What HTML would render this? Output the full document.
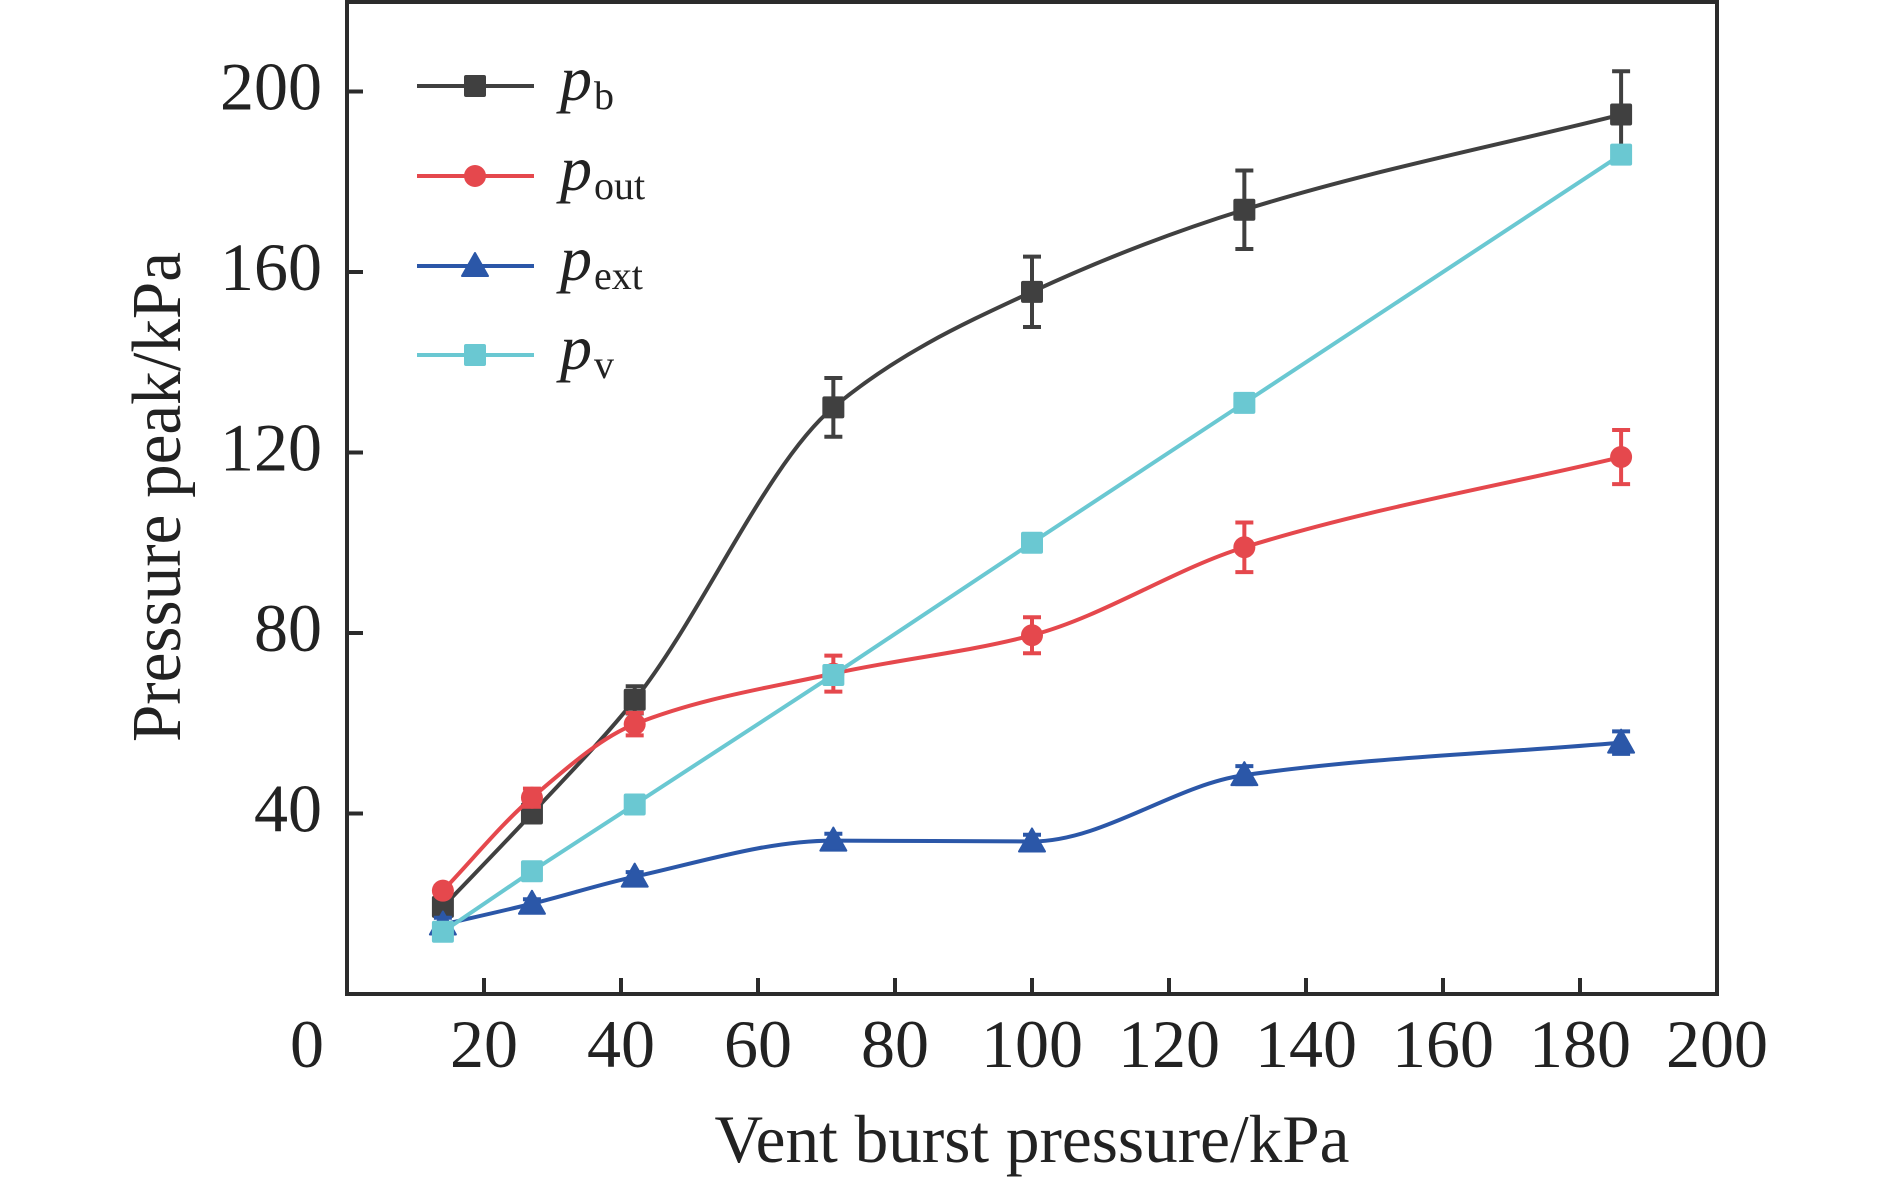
<!DOCTYPE html>
<html><head><meta charset="utf-8"><style>
html,body{margin:0;padding:0;background:#fff;}
svg{display:block;font-family:"Liberation Serif",serif;}
</style></head><body>
<svg id="chart" width="1890" height="1183" viewBox="0 0 1890 1183" xmlns="http://www.w3.org/2000/svg"></svg>
<script>
const xValues = [14, 27, 42, 71, 100, 131, 186];
const pbValues = [19.3, 40, 65.2, 130, 155.6, 173.8, 194.9];
const pbErrors = [2, 2, 3, 6.5, 7.8, 8.7, 9.6];
const poutValues = [22.9, 43.5, 59.8, 71, 79.5, 99, 119];
const poutErrors = [1, 2, 2.5, 4, 4, 5.5, 6];
const pextValues = [15.4, 20, 26, 34, 33.8, 48.5, 55.7];
const pextErrors = [1.5, 1, 1, 1.5, 1.5, 2, 2.5];
const pvValues = [13.8, 27.2, 42, 70.7, 100, 131, 186];
const xTicks = [0, 20, 40, 60, 80, 100, 120, 140, 160, 180, 200];
const yTicks = [40, 80, 120, 160, 200];

const NS = "http://www.w3.org/2000/svg";
const svg = document.getElementById('chart');
const X0 = 347, XS = 6.85, Y0 = 994, YS = 4.5125;
function sx(v){ return X0 + v * XS; }
function sy(v){ return Y0 - v * YS; }
function mk(tag, attrs, parent){
  const e = document.createElementNS(NS, tag);
  for (const k in attrs) e.setAttribute(k, attrs[k]);
  (parent || svg).appendChild(e);
  return e;
}
function smoothPath(xs, ys){
  const px = xs.map(sx), py = ys.map(sy), n = px.length;
  const d = [], m = [];
  for (let i=0;i<n-1;i++) d.push((py[i+1]-py[i])/(px[i+1]-px[i]));
  m[0]=d[0]; m[n-1]=d[n-2];
  for (let i=1;i<n-1;i++){
    if (d[i-1]*d[i] <= 0) m[i]=0;
    else { const h0=px[i]-px[i-1], h1=px[i+1]-px[i];
      const w1=2*h1+h0, w2=h1+2*h0; m[i]=(w1+w2)/(w1/d[i-1]+w2/d[i]); }
  }
  let s = `M${px[0]},${py[0]}`;
  for (let i=0;i<n-1;i++){
    const h=(px[i+1]-px[i])/3;
    s += ` C${px[i]+h},${py[i]+m[i]*h} ${px[i+1]-h},${py[i+1]-m[i+1]*h} ${px[i+1]},${py[i+1]}`;
  }
  return s;
}
function linePath(xs, ys){
  return xs.map((x,i)=>(i?'L':'M')+sx(x)+','+sy(ys[i])).join(' ');
}
function marker(g, shape, cx, cy, color){
  let e;
  if (shape==='square') e = mk('rect',{x:cx-11,y:cy-11,width:22,height:22,rx:2,fill:color},g);
  else if (shape==='circle') e = mk('circle',{cx:cx,cy:cy,r:11,fill:color},g);
  else e = mk('path',{d:`M${cx},${cy-13} L${cx+13},${cy+10} L${cx-13},${cy+10} Z`,fill:color,'stroke':color,'stroke-width':2,'stroke-linejoin':'round'},g);
  return e;
}

const frame = mk('rect',{x:X0,y:2,width:1370,height:Y0-2,fill:'none',stroke:'#2b2b2b','stroke-width':4});



xTicks.forEach(t=>{
  if (t>0 && t<200){
    const tk = mk('line',{x1:sx(t),x2:sx(t),y1:Y0,y2:Y0-16,stroke:'#2b2b2b','stroke-width':4});
    
    
  }
  const lb = mk('text',{x:t===0?sx(t)-40:sx(t),y:1067,'font-size':68,'text-anchor':'middle',fill:'#222'});
  lb.textContent = t;
  
  
});
yTicks.forEach(t=>{
  const tk = mk('line',{x1:X0,x2:X0+16,y1:sy(t),y2:sy(t),stroke:'#2b2b2b','stroke-width':4});
  
  
  const lb = mk('text',{x:322,y:sy(t)+18,'font-size':68,'text-anchor':'end',fill:'#222'});
  lb.textContent = t;
  
  
});

const xt = mk('text',{x:1032,y:1162,'font-size':68,'text-anchor':'middle',fill:'#222',textLength:635,lengthAdjust:'spacingAndGlyphs'});
xt.textContent='Vent burst pressure/kPa';


const yt = mk('text',{x:0,y:0,'font-size':70,'text-anchor':'middle',fill:'#222',textLength:490,lengthAdjust:'spacingAndGlyphs',transform:'translate(180,497) rotate(-90)'});
yt.textContent='Pressure peak/kPa';



const series = [
  {name:'pb', vals:pbValues, errs:pbErrors, color:'#404040', shape:'square', smooth:true},
  {name:'pout', vals:poutValues, errs:poutErrors, color:'#e5484d', shape:'circle', smooth:true},
  {name:'pext', vals:pextValues, errs:pextErrors, color:'#2b57a8', shape:'triangle', smooth:true},
  {name:'pv', vals:pvValues, errs:null, color:'#6ac8d2', shape:'square', smooth:false}
];
series.forEach(s=>{
  const g = mk('g',{});
  
  
  const ln = mk('path',{d:s.smooth?smoothPath(xValues,s.vals):linePath(xValues,s.vals),fill:'none',stroke:s.color,'stroke-width':4},g);
  
  
  xValues.forEach((x,i)=>{
    const cx=sx(x), cy=sy(s.vals[i]);
    if (s.errs){
      const e=s.errs[i], t=sy(s.vals[i]+e), b=sy(s.vals[i]-e);
      const eb = mk('path',{d:`M${cx},${t} L${cx},${b} M${cx-9},${t} L${cx+9},${t} M${cx-9},${b} L${cx+9},${b}`,stroke:s.color,'stroke-width':4,fill:'none'},g);
      
      
    }
    const m = marker(g,s.shape,cx,cy,s.color);
    
    
  });
});

const legendRows = [
  {y:86, color:'#404040', shape:'square', sub:'b'},
  {y:176, color:'#e5484d', shape:'circle', sub:'out'},
  {y:266, color:'#2b57a8', shape:'triangle', sub:'ext'},
  {y:355, color:'#6ac8d2', shape:'square', sub:'v'}
];
const lg = mk('g',{});


legendRows.forEach(r=>{
  const eg = mk('g',{},lg);
  
  
  mk('line',{x1:417,x2:534,y1:r.y,y2:r.y,stroke:r.color,'stroke-width':4},eg);
  marker(eg,r.shape,475,r.y,r.color);
  const tx = mk('text',{x:560,y:r.y+14,'font-size':64,fill:'#222'},eg);
  const ts1 = mk('tspan',{'font-style':'italic'},tx); ts1.textContent='p';
  const ts2 = mk('tspan',{'font-size':40,dx:2,dy:9},tx); ts2.textContent=r.sub;
});
</script>
</body></html>
